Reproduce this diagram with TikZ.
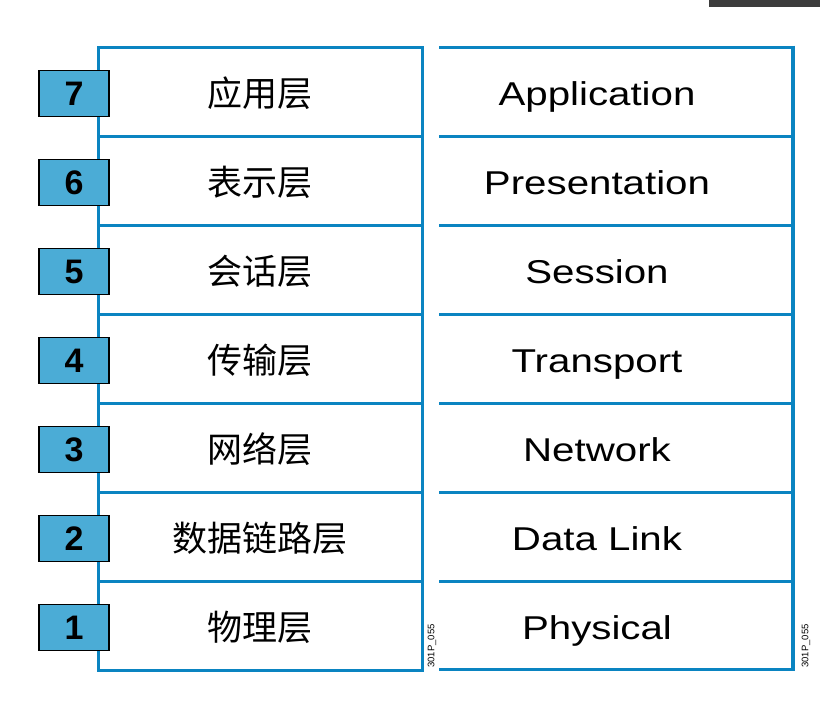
\documentclass[tikz,border=0pt]{standalone}
\usepackage{fontspec}
\setmainfont{Liberation Sans}
\newfontfamily\cjk{Noto Sans CJK SC}
\newfontfamily\engwide[FakeStretch=1.22]{Liberation Sans}
\definecolor{osiblue}{RGB}{10,132,193}
\definecolor{numfill}{RGB}{75,172,214}
\definecolor{topbar}{RGB}{60,60,60}
\tikzset{
  osiline/.style={draw=osiblue, line width=3pt},
  zhlabel/.style={font=\cjk\fontsize{35}{35}\selectfont, inner sep=0pt},
  enlabel/.style={font=\engwide\fontsize{33}{33}\selectfont, inner sep=0pt, anchor=base},
  numbox/.style={draw=black, line width=1.5pt, fill=numfill, minimum width=70pt, minimum height=46pt, inner sep=0pt, font=\fontsize{34}{34}\selectfont\bfseries},
  tag/.style={rotate=90, inner sep=0pt, font=\fontsize{9.5}{9.5}\selectfont}
}
\begin{document}
\begin{tikzpicture}[x=1pt,y=-1pt]
\useasboundingbox (0,0) rectangle (820,704);
\fill[topbar] (709,0) rectangle (820,7);
% left column
\draw[osiline] (98,47) rectangle (422,670);
\foreach \y in {136,225,314,403,492,581}
  \draw[osiline] (98,\y) -- (422,\y);
% right column
\foreach \y in {47,136,225,314,403,492,581,669}
  \draw[osiline] (439,\y) -- (793,\y);
\draw[draw=osiblue, line width=4pt] (793,45.5) -- (793,670.5);
% labels
\foreach \num/\zh/\en [count=\i from 0] in {7/应用层/Application, 6/表示层/Presentation, 5/会话层/Session, 4/传输层/Transport, 3/网络层/Network, 2/数据链路层/Data Link, 1/物理层/Physical}
{
  \pgfmathsetmacro\yc{91.5+89*\i}
  \node[zhlabel] (zh\num) at (260,\yc+2) {\zh};
  \node[enlabel] (en\num) at (597,\yc+14) {\en};
  \node[numbox] (n\num) at (74,\yc+2) {\num};
}
\node[tag] (tagA) at (432,646) {301P\_055};
\node[tag] (tagB) at (806,646) {301P\_055};
\end{tikzpicture}
\end{document}
